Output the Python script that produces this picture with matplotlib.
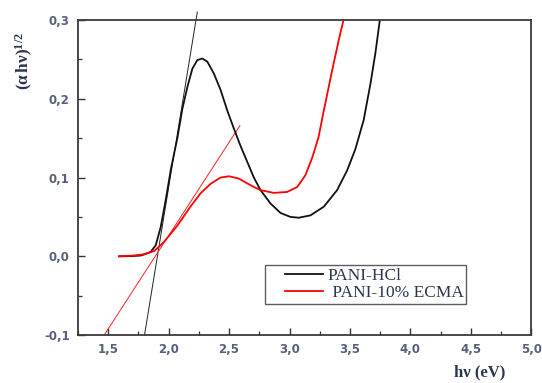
import matplotlib
matplotlib.use("Agg")
import matplotlib.pyplot as plt
from matplotlib.ticker import MultipleLocator, FuncFormatter
from matplotlib.legend_handler import HandlerLine2D
from matplotlib.lines import Line2D

plt.rcParams["mathtext.fontset"] = "custom"
plt.rcParams["mathtext.rm"] = "Liberation Serif"
plt.rcParams["mathtext.it"] = "Liberation Serif:italic"
plt.rcParams["mathtext.bf"] = "Liberation Serif:bold"

# PANI-HCl curve
hcl_x = [1.59, 1.70, 1.77, 1.85, 1.893, 1.934, 1.975, 2.02, 2.072, 2.113, 2.155,
         2.196, 2.237, 2.278, 2.32, 2.374, 2.43, 2.485, 2.54, 2.595, 2.65, 2.705,
         2.76, 2.843, 2.926, 3.008, 3.077, 3.174, 3.284, 3.394, 3.477, 3.545,
         3.614, 3.67, 3.71, 3.746, 3.752]
hcl_y = [0.0, 0.0003, 0.001, 0.0055, 0.014, 0.037, 0.071, 0.112, 0.150, 0.187, 0.215,
         0.238, 0.249, 0.251, 0.247, 0.232, 0.211, 0.185, 0.162, 0.140, 0.120, 0.100,
         0.084, 0.067, 0.055, 0.050, 0.049, 0.052, 0.063, 0.084, 0.109, 0.136,
         0.173, 0.219, 0.257, 0.298, 0.305]

# PANI-10% ECMA curve
ecma_x = [1.59, 1.70, 1.796, 1.88, 1.96, 2.072, 2.18, 2.264, 2.347, 2.43, 2.50,
          2.58, 2.68, 2.76, 2.87, 2.98, 3.064, 3.132, 3.19, 3.24, 3.284, 3.353,
          3.407, 3.444, 3.45]
ecma_y = [0.0, 0.0008, 0.0025, 0.0067, 0.018, 0.039, 0.063, 0.080, 0.092, 0.100, 0.1016,
          0.0987, 0.090, 0.084, 0.0805, 0.0817, 0.088, 0.103, 0.126, 0.151, 0.185, 0.236,
          0.274, 0.298, 0.305]

# Tangent lines (endpoints)
tan_hcl_x = [1.80, 2.237]
tan_hcl_y = [-0.10, 0.310]
tan_ecma_x = [1.466, 2.59]
tan_ecma_y = [-0.10, 0.166]

labels = ["PANI-HCl", " PANI-10% ECMA"]

fig = plt.figure(figsize=(5.42, 3.83), dpi=100)
ax = fig.add_axes([0.144, 0.125, 0.836, 0.823])

ax.plot(tan_hcl_x, tan_hcl_y, color="#222222", lw=0.7, clip_on=False)
ax.plot(tan_ecma_x, tan_ecma_y, color="#ff2020", lw=0.7, clip_on=False)
ax.plot(hcl_x, hcl_y, color="#111111", lw=1.3, label=labels[0],
        solid_joinstyle="round")
ax.plot(ecma_x, ecma_y, color="#ff0000", lw=1.3, label=labels[1],
        solid_joinstyle="round")

ax.set_xlim(1.25, 5.0)
ax.set_ylim(-0.1, 0.3)

ax.xaxis.set_major_locator(MultipleLocator(0.5))
ax.xaxis.set_minor_locator(MultipleLocator(0.25))
ax.yaxis.set_major_locator(MultipleLocator(0.1))
ax.yaxis.set_minor_locator(MultipleLocator(0.05))
fmt = FuncFormatter(lambda v, p: ("%.1f" % v).replace(".", ","))
ax.xaxis.set_major_formatter(fmt)
ax.yaxis.set_major_formatter(fmt)

ax.tick_params(which="major", direction="in", length=5, width=1.0,
               labelsize=8.5, labelcolor="#56607a", color="#333333", pad=6)
ax.tick_params(which="minor", direction="in", length=3, width=0.9, color="#333333")
for lab in ax.get_xticklabels() + ax.get_yticklabels():
    lab.set_fontweight("bold")

for sp in ax.spines.values():
    sp.set_linewidth(1.3)
    sp.set_color("#3a3a3a")

leg = ax.legend(loc="upper left", bbox_to_anchor=(0.413, 0.222),
                prop={"family": "Liberation Serif", "size": 12.5},
                frameon=True, fancybox=False, edgecolor="#333333",
                handlelength=3.2, handletextpad=0.25, borderpad=0.15,
                labelspacing=0.08, borderaxespad=0.0,
                handler_map={Line2D: HandlerLine2D(xpad=1.0)})
leg.get_frame().set_linewidth(1.0)
for t in leg.get_texts():
    t.set_color("#2a3550")

fig.text(0.045, 0.84, r"$\mathbf{(\alpha\,h\nu)}^{\mathbf{1/2}}$", rotation=90,
         ha="center", va="center", fontsize=12.5, color="#2a3550")
fig.text(0.885, 0.028, "hν (eV)", ha="center", va="center", fontsize=12,
         fontweight="bold", color="#2a3550", family="Liberation Serif")

fig.savefig("out.png", dpi=100)
